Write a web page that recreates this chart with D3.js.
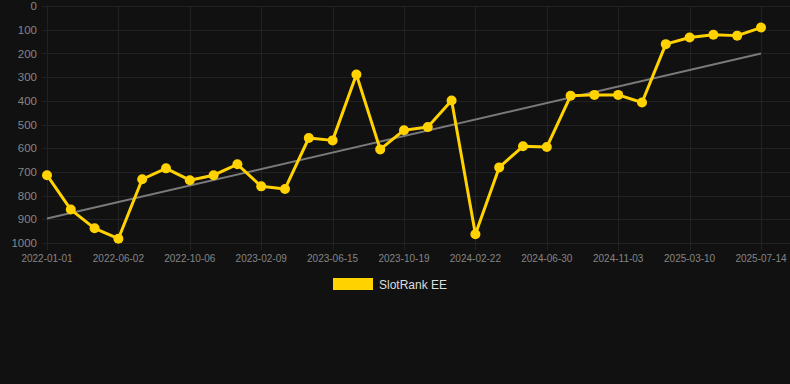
<!DOCTYPE html>
<html>
<head>
<meta charset="utf-8">
<script src="https://cdn.jsdelivr.net/npm/d3@7"></script>
<style>
  html, body { margin: 0; padding: 0; background: #111111; }
  svg { display: block; font-family: Arial, "Liberation Sans", sans-serif; }
</style>
</head>
<body>
<svg id="chart" width="790" height="384"></svg>
<script>
// category dates (only every 3rd one is shown as a tick label)
let dates = [
    "2022-01-01", "2022-03-10", "2022-04-21", "2022-06-02", "2022-07-14", "2022-08-25",
    "2022-10-06", "2022-11-17", "2022-12-29", "2023-02-09", "2023-03-23", "2023-05-04",
    "2023-06-15", "2023-07-27", "2023-09-07", "2023-10-19", "2023-11-30", "2024-01-11",
    "2024-02-22", "2024-04-04", "2024-05-16", "2024-06-30", "2024-08-11", "2024-09-22",
    "2024-11-03", "2024-12-15", "2025-01-26", "2025-03-10", "2025-04-21", "2025-06-02",
    "2025-07-14"
];

let ranks = [
    714, 859, 938, 982, 731, 685, 735, 714, 668, 761, 772, 557, 567, 289, 605, 524,
    511, 399, 963, 681, 592, 595, 379, 375, 375, 407, 161, 133, 121, 125, 91
];

let yTicks = [0, 100, 200, 300, 400, 500, 600, 700, 800, 900, 1000];
let seriesName = "SlotRank EE";

let gold = "#ffd200";
let gridColor = "#222222";
let labelColor = "#858585";

let svg = d3.select("#chart");

let plotLeft = 42, plotRight = 790, plotTop = 6, plotBottom = 243;

let x = d3.scalePoint()
    .domain(dates)
    .range([47, 761]);

let y = d3.scaleLinear()
    .domain([0, 1000])
    .range([plotTop, plotBottom]);

let tickDates = dates.filter((d, i) => i % 3 === 0);

// horizontal grid + y labels
svg.append("g")
    .selectAll("line")
    .data(yTicks)
    .enter().append("line")
        .attr("x1", plotLeft)
        .attr("x2", plotRight)
        .attr("y1", d => Math.round(y(d)) + 0.5)
        .attr("y2", d => Math.round(y(d)) + 0.5)
        .style("stroke", gridColor)
        .style("stroke-width", 1);

svg.append("g")
    .selectAll("text")
    .data(yTicks)
    .enter().append("text")
        .attr("x", 37)
        .attr("y", d => y(d))
        .attr("dy", "0.36em")
        .attr("text-anchor", "end")
        .style("font-size", "11.5px")
        .style("fill", labelColor)
        .text(d => d);

// vertical grid + x labels
svg.append("g")
    .selectAll("line")
    .data(tickDates)
    .enter().append("line")
        .attr("x1", d => Math.round(x(d)) + 0.5)
        .attr("x2", d => Math.round(x(d)) + 0.5)
        .attr("y1", plotTop)
        .attr("y2", plotBottom + 7)
        .style("stroke", gridColor)
        .style("stroke-width", 1);

svg.append("g")
    .selectAll("text")
    .data(tickDates)
    .enter().append("text")
        .attr("x", d => x(d))
        .attr("y", 262)
        .attr("text-anchor", "middle")
        .style("font-size", "10px")
        .style("fill", labelColor)
        .text(d => d);

// linear trend (least squares over the index)
let n = ranks.length;
let mx = d3.mean(ranks, (d, i) => i);
let my = d3.mean(ranks);
let sxy = d3.sum(ranks, (d, i) => (i - mx) * (d - my));
let sxx = d3.sum(ranks, (d, i) => (i - mx) * (i - mx));
let slope = sxy / sxx;
let icpt = my - slope * mx;

svg.append("line")
    .attr("x1", x(dates[0]))
    .attr("y1", y(icpt))
    .attr("x2", x(dates[n - 1]))
    .attr("y2", y(icpt + slope * (n - 1)))
    .style("stroke", "#7a7a7a")
    .style("stroke-width", 2);

// main series
let line = d3.line()
    .x((d, i) => x(dates[i]))
    .y(d => y(d));

svg.append("path")
    .datum(ranks)
    .attr("d", line)
    .style("fill", "none")
    .style("stroke", gold)
    .style("stroke-width", 3)
    .style("stroke-linejoin", "round");

svg.append("g")
    .selectAll("circle")
    .data(ranks)
    .enter().append("circle")
        .attr("cx", (d, i) => x(dates[i]))
        .attr("cy", d => y(d))
        .attr("r", 5)
        .style("fill", gold);

// legend
svg.append("rect")
    .attr("x", 333)
    .attr("y", 278)
    .attr("width", 40)
    .attr("height", 12)
    .style("fill", gold);

svg.append("text")
    .attr("x", 379)
    .attr("y", 288.5)
    .style("font-size", "12px")
    .style("fill", "#dddddd")
    .text(seriesName);
</script>
</body>
</html>
